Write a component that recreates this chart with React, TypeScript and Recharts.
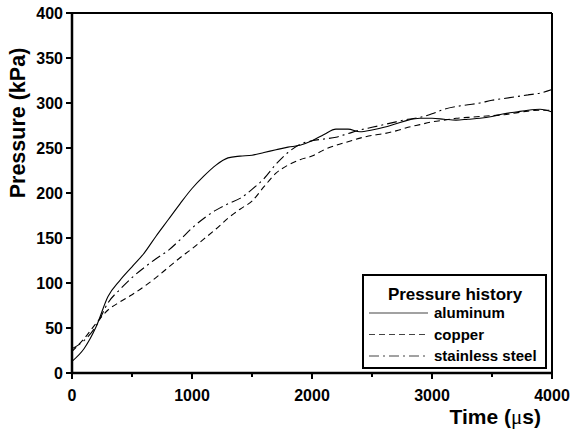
import React from "react";
import { LineChart, Line, XAxis, YAxis, ReferenceLine, Legend } from "recharts";

const timeUs = [0, 100, 200, 300, 400, 500, 600, 700, 800, 900, 1000, 1100, 1200, 1300, 1400, 1500, 1600, 1700, 1800, 1900, 2000, 2100, 2200, 2300, 2400, 2500, 2600, 2700, 2800, 2900, 3000, 3100, 3200, 3300, 3400, 3500, 3600, 3700, 3800, 3900, 4000];
const aluminum = [13, 27, 51, 85, 103, 118, 133, 152, 170, 188, 205, 219, 231, 239, 241, 242, 245, 248, 251, 253, 258, 265, 271, 271, 268, 270, 273, 277, 281, 283, 283, 282, 281, 282, 283, 285, 288, 290, 292, 293, 290];
const copper = [24, 38, 55, 70, 79, 87, 96, 106, 117, 128, 138, 149, 160, 172, 182, 191, 207, 222, 231, 237, 241, 248, 253, 257, 261, 264, 266, 269, 273, 276, 279, 281, 283, 284, 285, 286, 287, 289, 291, 292, 292];
const steel = [27, 36, 52, 78, 93, 106, 117, 127, 136, 148, 161, 172, 181, 188, 194, 204, 216, 232, 245, 254, 258, 260, 262, 266, 270, 273, 276, 279, 282, 284, 288, 293, 296, 298, 300, 303, 305, 307, 309, 311, 315];

const xTicks = [0, 500, 1000, 1500, 2000, 2500, 3000, 3500, 4000];
const yTicks = [0, 50, 100, 150, 200, 250, 300, 350, 400];

const seriesNames = ["aluminum", "copper", "stainless steel"];
const dashes = ["", "6 4", "10 4 2 4"];
const legendTitle = "Pressure history";

const data = timeUs.map((t, i) => ({
  t,
  al: aluminum[i],
  cu: copper[i],
  ss: steel[i],
}));

const FONT = "'Liberation Sans', Arial, sans-serif";

const XTick = (props: any) => {
  const { x, y, payload } = props;
  const major = payload.value % 1000 === 0;
  return (
    <g>
      <line x1={x} x2={x} y1={y} y2={y + (major ? 6 : 4)} stroke="#000" strokeWidth={2} />
      {major && (
        <text x={x} y={y + 28} textAnchor="middle" fontFamily={FONT} fontWeight="bold" fontSize={16} fill="#000">
          {payload.value}
        </text>
      )}
    </g>
  );
};

const YTick = (props: any) => {
  const { x, y, payload } = props;
  return (
    <g>
      <line x1={x - 6} x2={x} y1={y} y2={y} stroke="#000" strokeWidth={2} />
      <text x={x - 9} y={y} dy="0.36em" textAnchor="end" fontFamily={FONT} fontWeight="bold" fontSize={16} fill="#000">
        {payload.value}
      </text>
    </g>
  );
};

const LegendBox = () => (
  <div
    style={{
      boxSizing: "border-box",
      width: 185,
      height: 95,
      border: "2px solid #000",
      background: "#fff",
      fontFamily: FONT,
      fontWeight: "bold",
    }}
  >
    <svg width={181} height={91}>
      <text x={91} y={24} textAnchor="middle" fontSize={17} fontFamily={FONT} fontWeight="bold" fill="#000">
        {legendTitle}
      </text>
      {seriesNames.map((n, i) => (
        <g key={n}>
          <line
            x1={5}
            x2={64}
            y1={37 + i * 21.5}
            y2={37 + i * 21.5}
            stroke="#444"
            strokeWidth={1.2}
            strokeDasharray={dashes[i] || undefined}
          />
          <text x={70} y={37 + i * 21.5} dy="0.36em" fontSize={15} fontFamily={FONT} fontWeight="bold" fill="#000">
            {n}
          </text>
        </g>
      ))}
    </svg>
  </div>
);

export default function App() {
  return (
    <div style={{ position: "absolute", left: 0, top: 0, width: 571, height: 432, background: "#fff" }}>
      <LineChart
        width={571}
        height={432}
        data={data}
        margin={{ top: 13, right: 19, bottom: 29, left: 10 }}
      >
        <XAxis
          dataKey="t"
          type="number"
          domain={[0, 4000]}
          ticks={xTicks}
          interval={0}
          height={30}
          stroke="#000"
          strokeWidth={2.5}
          tickLine={false}
          tickSize={0}
          tickMargin={0}
          tick={<XTick />}
          label={() => (
            <text
              x={541}
              y={424}
              textAnchor="end"
              fontFamily={FONT}
              fontWeight="bold"
              fontSize={21}
              fill="#000"
            >
              Time (<tspan fontFamily="'Liberation Serif', serif" fontWeight="normal">μ</tspan>s)
            </text>
          )}
        />
        <YAxis
          type="number"
          domain={[0, 400]}
          ticks={yTicks}
          interval={0}
          width={62}
          stroke="#000"
          strokeWidth={2.5}
          tickLine={false}
          tickSize={0}
          tickMargin={0}
          tick={<YTick />}
          label={() => (
            <text
              x={18}
              y={123}
              transform="rotate(-90, 18, 123)"
              textAnchor="middle"
              dominantBaseline="central"
              fontFamily={FONT}
              fontWeight="bold"
              fontSize={21.5}
              fill="#000"
            >
              Pressure (kPa)
            </text>
          )}
        />
        <ReferenceLine y={400} stroke="#000" strokeWidth={2} />
        <ReferenceLine x={4000} stroke="#000" strokeWidth={2} />
        <Line type="monotone" dataKey="al" name="aluminum" stroke="#000" strokeWidth={1.1} dot={false} isAnimationActive={false} />
        <Line type="monotone" dataKey="cu" name="copper" stroke="#000" strokeWidth={1.1} strokeDasharray="6 4" dot={false} isAnimationActive={false} />
        <Line type="monotone" dataKey="ss" name="stainless steel" stroke="#000" strokeWidth={1.1} strokeDasharray="10 4 2 4" dot={false} isAnimationActive={false} />
        <Legend
          layout="vertical"
          align="center"
          verticalAlign="middle"
          content={<LegendBox />}
          wrapperStyle={{ left: 362, top: 274, width: 185, height: 95 }}
        />
      </LineChart>
    </div>
  );
}
